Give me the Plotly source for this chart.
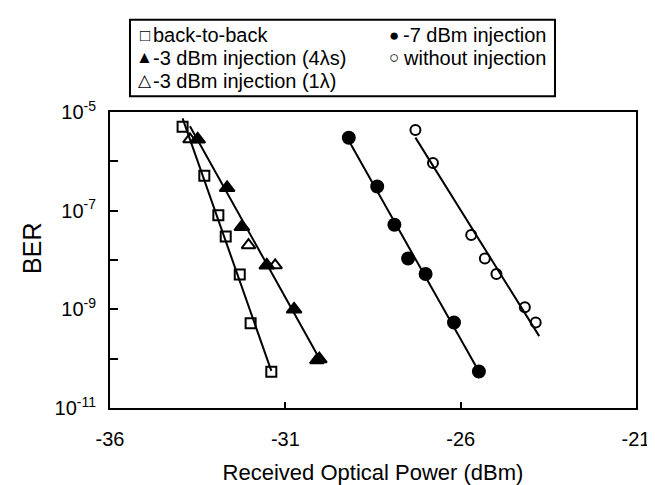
import numpy as np
import plotly.graph_objects as go

# ---- data ----
b2b_x = [-33.93, -33.31, -32.91, -32.70, -32.30, -31.99, -31.40]
b2b_y = [5.0e-6, 5.1e-7, 8.1e-8, 3.0e-8, 5.1e-9, 5.2e-10, 5.4e-11]

inj3_4_x = [-33.50, -32.66, -32.24, -31.53, -30.75, -30.03]
inj3_4_y = [2.8e-6, 2.9e-7, 4.7e-8, 7.8e-9, 1.0e-9, 9.8e-11]

inj3_1_x = [-33.72, -32.05, -31.29, -30.10]
inj3_1_y = [2.8e-6, 2.0e-8, 7.8e-9, 9.3e-11]

inj7_x = [-29.19, -28.38, -27.89, -27.50, -27.00, -26.19, -25.48]
inj7_y = [3.0e-6, 3.1e-7, 5.2e-8, 1.07e-8, 5.2e-9, 5.4e-10, 5.5e-11]

noinj_x = [-27.29, -26.79, -25.70, -25.31, -24.98, -24.17, -23.86]
noinj_y = [4.3e-6, 9.3e-7, 3.2e-8, 1.07e-8, 5.2e-9, 1.1e-9, 5.4e-10]

series_names = ["back-to-back", "-7 dBm injection", "-3 dBm injection (4λs)",
                "without injection", "-3 dBm injection (1λ)"]
legend_glyphs = ["□", "●", "▲", "○", "△"]

x_ticks = [-36, -31, -26, -21]
y_ticks = [1e-5, 1e-7, 1e-9, 1e-11]
y_ticktext = ["10<sup>-5</sup>", "10<sup>-7</sup>", "10<sup>-9</sup>", "10<sup>-11</sup>"]
y_minor_ticks = [1e-6, 1e-8, 1e-10]

FONT = "Liberation Sans, Arial, sans-serif"

fig = go.Figure()


def fit_line(xs, ys, xmin, xmax):
    p = np.polyfit(np.array(xs), np.log10(np.array(ys)), 1)
    xx = np.array([xmin, xmax])
    return xx, 10 ** np.polyval(p, xx)


# regression lines (derived from the data)
for xs, ys, xr in [
    (b2b_x, b2b_y, (min(b2b_x), max(b2b_x))),
    (inj3_4_x, inj3_4_y, (min(inj3_1_x), max(inj3_4_x))),
    (inj7_x, inj7_y, (min(inj7_x), max(inj7_x))),
    (noinj_x, noinj_y, (min(noinj_x), max(noinj_x) + 0.1)),
]:
    lx, ly = fit_line(xs, ys, *xr)
    fig.add_trace(go.Scatter(x=lx, y=ly, mode="lines",
                             line=dict(color="black", width=2),
                             showlegend=False, hoverinfo="skip"))

series = [
    (series_names[0], b2b_x, b2b_y, "square-open", 10),
    (series_names[1], inj7_x, inj7_y, "circle", 12),
    (series_names[2], inj3_4_x, inj3_4_y, "triangle-up", 13),
    (series_names[3], noinj_x, noinj_y, "circle-open", 10),
    (series_names[4], inj3_1_x, inj3_1_y, "triangle-up-open", 12),
]
for name, xs, ys, sym, sz in series:
    fig.add_trace(go.Scatter(
        x=xs, y=ys, mode="markers", name=name, showlegend=False,
        marker=dict(symbol=sym, size=sz, color="black",
                    line=dict(color="black", width=2)),
    ))

# ---- legend box drawn as text + frame (paper coordinates) ----
col_sym_x = [0.0665, 0.5399]
col_txt_x = [0.0779, 0.5532]
row_y = [1.259, 1.183, 1.106]
annotations = []
for i, (name, glyph) in enumerate(zip(series_names, legend_glyphs)):
    col, row = i % 2, i // 2
    annotations.append(dict(
        text=glyph, x=col_sym_x[col], y=row_y[row], xref="paper", yref="paper",
        xanchor="center", yanchor="middle", showarrow=False,
        font=dict(family=FONT, size=17, color="black")))
    annotations.append(dict(
        text=name, x=col_txt_x[col], y=row_y[row], xref="paper", yref="paper",
        xanchor="left", yanchor="middle", showarrow=False,
        font=dict(family=FONT, size=20, color="black")))

annotations.append(dict(
    text="BER", textangle=-90, x=-0.148, y=0.538, xref="paper", yref="paper",
    showarrow=False, font=dict(size=25, family=FONT, color="black"),
    xanchor="center", yanchor="middle",
))

fig.update_layout(
    width=655, height=485,
    margin=dict(l=102, r=27, t=104, b=80),
    paper_bgcolor="white", plot_bgcolor="white",
    font=dict(family=FONT, color="black", size=19),
    showlegend=False,
    xaxis=dict(
        range=[-36, -21], tickvals=x_ticks, ticktext=[str(v) for v in x_ticks],
        ticks="inside", ticklen=6, tickwidth=2, tickcolor="black",
        showline=True, linecolor="black", linewidth=2, mirror=True,
        showgrid=False, zeroline=False,
        tickfont=dict(size=20), ticklabelstandoff=12,
        title=dict(text="Received Optical Power (dBm)", font=dict(size=22), standoff=16),
    ),
    yaxis=dict(
        type="log", range=[-11, -5], tickvals=y_ticks, ticktext=y_ticktext,
        ticks="inside", ticklen=8, tickwidth=2, tickcolor="black",
        minor=dict(tickvals=y_minor_ticks, ticks="inside", ticklen=8,
                   tickwidth=2, tickcolor="black", showgrid=False),
        showline=True, linecolor="black", linewidth=2, mirror=True,
        showgrid=False, zeroline=False,
        tickfont=dict(size=20), ticklabelstandoff=8,
    ),
    shapes=[dict(
        type="rect", xref="paper", yref="paper",
        x0=0.038, x1=0.846, y0=1.053, y1=1.312,
        line=dict(color="black", width=2), fillcolor="rgba(0,0,0,0)",
    )],
    annotations=annotations,
)

fig.write_html("out.html")
